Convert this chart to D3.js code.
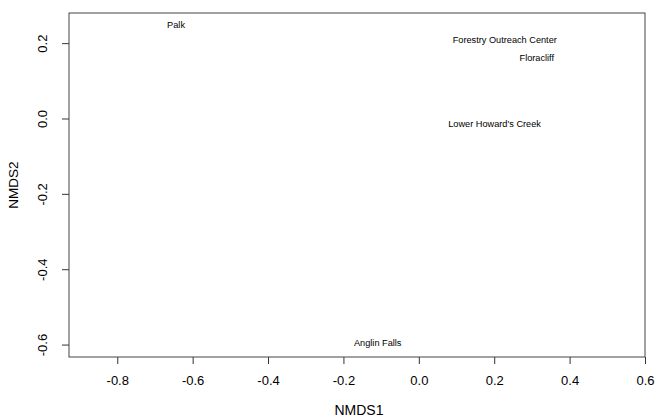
<!DOCTYPE html>
<html><head><meta charset="utf-8">
<script src="https://cdn.jsdelivr.net/npm/d3@7"></script>
<style>body{margin:0;background:#fff}svg{display:block}</style>
</head><body>
<svg id="c" width="655" height="419"></svg>
<script>
const sites = ["Palk","Forestry Outreach Center","Floracliff","Lower Howard's Creek","Anglin Falls"];
const nmds1 = [-0.644, 0.228, 0.313, 0.201, -0.109];
const nmds2 = [0.246, 0.206, 0.158, -0.015, -0.598];
const xTicks = [-0.8,-0.6,-0.4,-0.2,0.0,0.2,0.4,0.6];
const yTicks = [0.2,0.0,-0.2,-0.4,-0.6];

const svg = d3.select("#c");
const L=69, R=645, T=13, B=357;
const x = d3.scaleLinear().domain([-0.928,0.6]).range([L,R]);
const y = d3.scaleLinear().domain([-0.633,0.28]).range([B,T]);
const font = "Liberation Sans, Arial, sans-serif";
const fmt = d=>d3.format(".1f")(d).replace("−","-");

const xa = svg.append("g").attr("transform",`translate(0,${B})`)
  .call(d3.axisBottom(x).tickValues(xTicks).tickFormat(fmt).tickSize(7).tickPadding(12));
xa.select(".domain").remove();
const ya = svg.append("g").attr("transform",`translate(${L},0)`)
  .call(d3.axisLeft(y).tickValues(yTicks).tickFormat(fmt).tickSize(7));
ya.select(".domain").remove();
[xa,ya].forEach(a=>{a.selectAll("line").attr("stroke","#333");
  a.selectAll("text").attr("font-family",font).attr("font-size",13).attr("fill","#000");});
ya.selectAll("text")
  .attr("x",0).attr("y",0).attr("dy",null)
  .attr("text-anchor","middle").attr("dominant-baseline","middle")
  .attr("transform",`translate(-25,0) rotate(-90)`);

svg.append("rect").attr("x",L).attr("y",T).attr("width",R-L).attr("height",B-T)
  .attr("fill","none").attr("stroke","#444").attr("stroke-width",1);

svg.append("g").selectAll("text").data(sites).join("text")
  .attr("x",(d,i)=>x(nmds1[i])).attr("y",(d,i)=>y(nmds2[i]))
  .attr("text-anchor","middle").attr("dominant-baseline","middle")
  .attr("font-family",font).attr("font-size",9.2).attr("fill","#000").text(d=>d);

svg.append("text").attr("x",359).attr("y",415).attr("text-anchor","middle")
  .attr("font-family",font).attr("font-size",14).text("NMDS1");
svg.append("text").attr("transform",`translate(18,${(T+B)/2}) rotate(-90)`).attr("text-anchor","middle")
  .attr("font-family",font).attr("font-size",13.5).text("NMDS2");
</script>
</body></html>
